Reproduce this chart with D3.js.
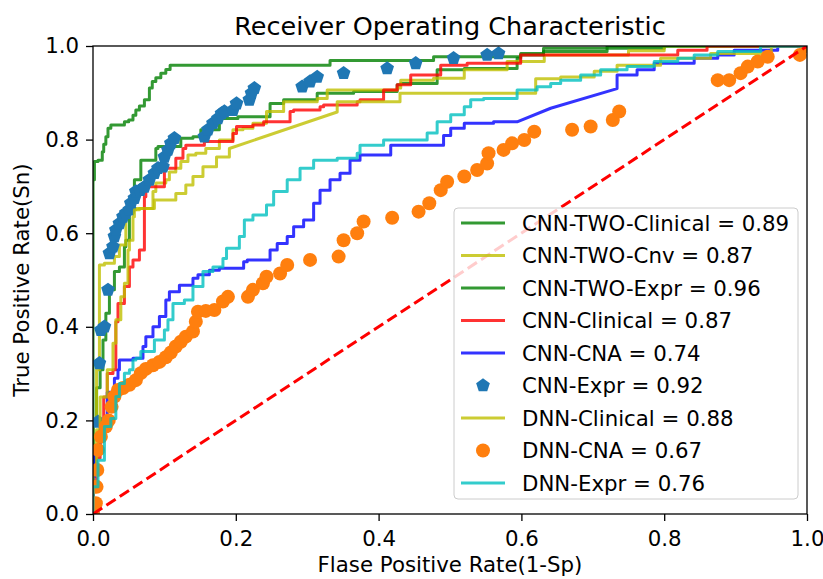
<!DOCTYPE html>
<html>
<head>
<meta charset="utf-8">
<script src="https://cdn.jsdelivr.net/npm/d3@7"></script>
<style>
  body{margin:0;background:#fff;}
  text{font-family:"DejaVu Sans",sans-serif;fill:#000;}
</style>
</head>
<body>
<div class="canvas"></div>
<script>
// roc points: [fpr, tpr] (a third 'd' = straight segment, not a step)
const twoClinical=[[0,0],[0,0.1],[0.005,0.2],[0.01,0.27],[0.014,0.308],[0.018,0.372],[0.023,0.429],[0.03,0.479],[0.037,0.518],[0.044,0.528],[0.046,0.571],[0.051,0.585],[0.056,0.642],[0.058,0.66],[0.067,0.714],[0.067,0.749],[0.088,0.756],[0.091,0.781],[0.123,0.785],[0.14,0.803],[0.151,0.806],[0.177,0.821],[0.203,0.845],[0.248,0.849],[0.267,0.877],[0.314,0.885],[0.365,0.899],[0.426,0.903],[0.431,0.917],[0.482,0.92],[0.52,0.949],[0.594,0.952],[0.599,0.974],[0.631,0.984],[0.8,0.995],[1,1]];
const twoCnv=[[0,0],[0,0.12],[0.005,0.2],[0.009,0.308],[0.009,0.518],[0.016,0.532],[0.03,0.536],[0.037,0.55],[0.046,0.575],[0.051,0.635],[0.06,0.65],[0.084,0.653],[0.088,0.689],[0.102,0.707],[0.107,0.714],[0.116,0.731],[0.123,0.739],[0.133,0.753],[0.144,0.767],[0.158,0.771],[0.177,0.781],[0.196,0.799],[0.21,0.821],[0.224,0.824],[0.243,0.835],[0.267,0.86],[0.314,0.881],[0.328,0.888],[0.426,0.906],[0.431,0.91],[0.477,0.927],[0.52,0.931],[0.58,0.949],[0.632,0.967],[0.75,0.981],[0.8,0.99],[1,1]];
const twoExpr=[[0,0],[0.002,0.714],[0.007,0.753],[0.013,0.756],[0.015,0.774],[0.018,0.79],[0.021,0.806],[0.025,0.824],[0.044,0.831],[0.05,0.838],[0.056,0.842],[0.06,0.852],[0.065,0.863],[0.072,0.872],[0.079,0.885],[0.083,0.91],[0.088,0.924],[0.095,0.932],[0.102,0.942],[0.108,0.95],[0.114,0.959],[0.332,0.959],[0.477,0.969],[0.599,0.977],[0.631,0.981],[0.72,0.988],[1,1]];
const cnnClinical=[[0,0],[0.005,0.05],[0.01,0.12],[0.015,0.18],[0.02,0.25],[0.028,0.3],[0.032,0.308],[0.035,0.411],[0.044,0.45],[0.051,0.486],[0.056,0.528],[0.065,0.543],[0.072,0.564],[0.074,0.678],[0.1,0.699],[0.102,0.739],[0.116,0.739],[0.126,0.76],[0.13,0.781],[0.156,0.788],[0.196,0.796],[0.201,0.813],[0.224,0.828],[0.239,0.831],[0.276,0.838],[0.281,0.86],[0.318,0.863],[0.323,0.87],[0.37,0.874],[0.374,0.881],[0.407,0.885],[0.426,0.906],[0.445,0.917],[0.487,0.938],[0.524,0.959],[0.599,0.963],[0.819,0.981],[0.86,0.991],[1,1]];
const cnnCna=[[0,0],[0.002,0.08],[0.01,0.13],[0.02,0.2],[0.03,0.26],[0.035,0.29],[0.037,0.308],[0.056,0.329],[0.07,0.333],[0.074,0.358],[0.084,0.379],[0.093,0.4],[0.102,0.422],[0.107,0.457],[0.121,0.475],[0.14,0.489],[0.147,0.504],[0.163,0.511],[0.177,0.521],[0.211,0.525],[0.216,0.539],[0.248,0.543],[0.258,0.564],[0.272,0.578],[0.281,0.593],[0.295,0.614],[0.309,0.628],[0.318,0.664],[0.332,0.692],[0.346,0.714],[0.36,0.728],[0.374,0.756],[0.417,0.767],[0.435,0.788],[0.491,0.788],[0.501,0.809],[0.52,0.824],[0.561,0.835],[0.594,0.838],[0.641,0.867,'d'],[0.734,0.909,'d'],[0.762,0.938],[0.786,0.949],[0.842,0.963],[0.875,0.974],[0.898,0.981],[0.959,0.991],[0.963,1],[1,1]];
const cnnExpr=[[0,0],[0.007,0.197],[0.009,0.322],[0.011,0.393],[0.016,0.4],[0.021,0.479],[0.023,0.557],[0.028,0.571],[0.03,0.593],[0.032,0.607],[0.037,0.621],[0.042,0.635],[0.046,0.643],[0.051,0.65],[0.053,0.664],[0.058,0.675],[0.06,0.689],[0.066,0.692],[0.072,0.699],[0.079,0.714],[0.086,0.728],[0.091,0.739],[0.098,0.742],[0.1,0.763],[0.105,0.778],[0.109,0.792],[0.114,0.803],[0.156,0.806],[0.161,0.821],[0.168,0.835],[0.175,0.845],[0.18,0.856],[0.184,0.86],[0.196,0.863],[0.201,0.877],[0.219,0.885],[0.222,0.899],[0.226,0.91],[0.293,0.913],[0.304,0.924],[0.314,0.934],[0.351,0.942],[0.412,0.952],[0.452,0.963],[0.505,0.974],[0.552,0.981],[0.568,0.984],[1,1]];
const dnnClinical=[[0,0],[0.005,0.1],[0.01,0.18],[0.02,0.25],[0.028,0.308],[0.032,0.365],[0.039,0.415],[0.044,0.464],[0.049,0.493],[0.051,0.564],[0.056,0.585],[0.058,0.635],[0.065,0.65],[0.086,0.653],[0.116,0.671],[0.13,0.685],[0.14,0.703],[0.154,0.721],[0.173,0.742],[0.191,0.763],[0.191,0.781],[0.342,0.859,'d'],[0.43,0.881],[0.62,0.899],[0.655,0.93],[0.702,0.934],[0.734,0.946],[0.795,0.959],[0.865,0.974],[0.95,0.984],[1,1]];
const dnnCna=[[0,0],[0.004,0.023],[0.005,0.058],[0.006,0.094],[0.007,0.137],[0.011,0.165],[0.018,0.187],[0.022,0.2],[0.026,0.229],[0.03,0.251],[0.035,0.265],[0.042,0.269],[0.051,0.276],[0.06,0.286],[0.067,0.301],[0.074,0.31],[0.084,0.318],[0.093,0.325],[0.102,0.335],[0.109,0.345],[0.116,0.358],[0.123,0.368],[0.13,0.379],[0.14,0.39],[0.144,0.411],[0.147,0.432],[0.158,0.434],[0.17,0.436],[0.182,0.454],[0.189,0.464],[0.217,0.464],[0.224,0.479],[0.238,0.493],[0.243,0.507],[0.262,0.514],[0.272,0.532],[0.304,0.543],[0.344,0.55],[0.351,0.585],[0.37,0.6],[0.379,0.625],[0.419,0.633],[0.456,0.646],[0.471,0.664],[0.487,0.692],[0.496,0.71],[0.52,0.721],[0.538,0.735],[0.552,0.749],[0.554,0.771],[0.575,0.778],[0.587,0.792],[0.604,0.799],[0.618,0.817],[0.671,0.821],[0.697,0.828],[0.728,0.842],[0.737,0.86],[0.875,0.927],[0.891,0.927],[0.907,0.942],[0.917,0.956],[0.931,0.967],[0.945,0.977],[0.99,0.981],[1,1]];
const dnnExpr=[[0,0],[0,0.009],[0.007,0.058],[0.016,0.115],[0.025,0.187],[0.032,0.204],[0.037,0.251],[0.044,0.279],[0.051,0.301],[0.056,0.308],[0.06,0.329],[0.067,0.333],[0.086,0.347],[0.1,0.372],[0.105,0.393],[0.112,0.415],[0.128,0.45],[0.14,0.457],[0.154,0.486],[0.168,0.518],[0.182,0.528],[0.187,0.546],[0.205,0.568],[0.212,0.593],[0.224,0.628],[0.243,0.639],[0.253,0.66],[0.272,0.689],[0.29,0.714],[0.309,0.739],[0.342,0.756],[0.37,0.76],[0.374,0.771],[0.407,0.788],[0.431,0.799],[0.468,0.799],[0.482,0.814],[0.501,0.838],[0.52,0.853],[0.529,0.87],[0.547,0.885],[0.594,0.888],[0.622,0.906],[0.641,0.913],[0.655,0.92],[0.683,0.927],[0.711,0.938],[0.748,0.949],[0.786,0.956],[0.819,0.967],[0.842,0.974],[0.875,0.981],[0.935,0.988],[0.96,1],[1,1]];

const labels=['CNN-TWO-Clinical','CNN-TWO-Cnv','CNN-TWO-Expr','CNN-Clinical','CNN-CNA','CNN-Expr','DNN-Clinical','DNN-CNA','DNN-Expr'];
const aucs=[0.89,0.87,0.96,0.87,0.74,0.92,0.88,0.67,0.76];
const ticks=[0,0.2,0.4,0.6,0.8,1.0];

// plot order = legend order
const series=[
  {pts:twoClinical,color:'#008000',kind:'line'},
  {pts:twoCnv,color:'#bfbf00',kind:'line'},
  {pts:twoExpr,color:'#008000',kind:'line'},
  {pts:cnnClinical,color:'#ff0000',kind:'line'},
  {pts:cnnCna,color:'#0000ff',kind:'line'},
  {pts:cnnExpr,color:'#1f77b4',kind:'pent'},
  {pts:dnnClinical,color:'#bfbf00',kind:'line'},
  {pts:dnnCna,color:'#ff7f0e',kind:'circle'},
  {pts:dnnExpr,color:'#00bfbf',kind:'line'}
];

const svg=d3.select('.canvas').append('svg')
    .attr('width',823)
    .attr('height',579);

const margin={top:46,right:16,bottom:65,left:93};
const width=823-margin.left-margin.right;
const height=579-margin.top-margin.bottom;

const x=d3.scaleLinear().domain([0,1]).range([0,width]);
const y=d3.scaleLinear().domain([0,1]).range([height,0]);

const graph=svg.append('g')
    .attr('transform',`translate(${margin.left},${margin.top})`);

graph.append('clipPath').attr('id','clip')
  .append('rect').attr('width',width).attr('height',height);

const plot=graph.append('g').attr('clip-path','url(#clip)');

// step path: up first, then right (roc staircase)
const stepPath=(pts)=>{
  const p=d3.path();
  let px=0;
  pts.forEach((d,i)=>{
    const X=x(d[0]),Y=y(d[1]);
    if(i===0) p.moveTo(X,Y);
    else if(d[2]==='d') p.lineTo(X,Y);
    else {p.lineTo(px,Y);p.lineTo(X,Y);}
    px=X;
  });
  return p.toString();
};

// pentagon marker shape
const pentagon=(r)=>{
  const pts=d3.range(5).map(k=>{
    const a=-Math.PI/2+k*2*Math.PI/5;
    return [r*Math.cos(a),r*Math.sin(a)];
  });
  return 'M'+pts.join('L')+'Z';
};

series.forEach(s=>{
  if(s.kind==='line'){
    plot.append('path')
      .attr('d',stepPath(s.pts))
      .attr('fill','none')
      .attr('stroke',s.color)
      .attr('stroke-opacity',0.8)
      .attr('stroke-width',3)
      .attr('stroke-linejoin','round');
  } else if(s.kind==='pent'){
    plot.selectAll(null).data(s.pts).enter().append('path')
      .attr('d',pentagon(7.2))
      .attr('transform',d=>`translate(${x(d[0])},${y(d[1])})`)
      .attr('fill',s.color);
  } else {
    plot.selectAll(null).data(s.pts).enter().append('circle')
      .attr('cx',d=>x(d[0]))
      .attr('cy',d=>y(d[1]))
      .attr('r',7)
      .attr('fill',s.color);
  }
});

// chance line
plot.append('line')
  .attr('x1',x(0)).attr('y1',y(0))
  .attr('x2',x(1)).attr('y2',y(1))
  .attr('stroke','#ff0000')
  .attr('stroke-width',3)
  .attr('stroke-dasharray','11,5');

// axes
const xAxis=d3.axisBottom(x).tickValues(ticks).tickFormat(d3.format('.1f')).tickSize(7).tickPadding(10).tickSizeOuter(0);
const yAxis=d3.axisLeft(y).tickValues(ticks).tickFormat(d3.format('.1f')).tickSize(7).tickPadding(7).tickSizeOuter(0);

const xAxisGroup=graph.append('g').attr('transform',`translate(0,${height})`).call(xAxis);
const yAxisGroup=graph.append('g').call(yAxis);
[xAxisGroup,yAxisGroup].forEach(g=>{
  g.select('.domain').remove();
  g.selectAll('line').attr('stroke','#000').attr('stroke-width',1.3);
  g.selectAll('text').attr('font-size',21.3).attr('font-family','DejaVu Sans').attr('fill','#000');
});

// spines
graph.append('rect')
  .attr('width',width).attr('height',height)
  .attr('fill','none').attr('stroke','#000').attr('stroke-width',1.3);

// title + labels
svg.append('text')
  .attr('x',margin.left+width/2).attr('y',35)
  .attr('text-anchor','middle').attr('font-size',25.5)
  .text('Receiver Operating Characteristic');
svg.append('text')
  .attr('x',margin.left+width/2).attr('y',572)
  .attr('text-anchor','middle').attr('font-size',21.3)
  .text('Flase Positive Rate(1-Sp)');
svg.append('text')
  .attr('transform',`translate(29,${margin.top+height/2}) rotate(-90)`)
  .attr('text-anchor','middle').attr('font-size',21.3)
  .text('True Positive Rate(Sn)');

// legend
const legend=svg.append('g').attr('transform','translate(454,208)');
legend.append('rect')
  .attr('width',344).attr('height',291).attr('rx',4)
  .attr('fill','#fff').attr('fill-opacity',0.8)
  .attr('stroke','#ccc').attr('stroke-width',1);

const items=legend.selectAll('g.item').data(series).enter().append('g')
  .attr('transform',(d,i)=>`translate(0,${15+i*32.5})`);

items.each(function(d){
  const g=d3.select(this);
  if(d.kind==='line'){
    g.append('line').attr('x1',7).attr('x2',51).attr('stroke',d.color)
      .attr('stroke-opacity',0.8).attr('stroke-width',3);
  } else if(d.kind==='pent'){
    g.append('path').attr('d',pentagon(7.2)).attr('transform','translate(29,0)').attr('fill',d.color);
  } else {
    g.append('circle').attr('cx',29).attr('r',7).attr('fill',d.color);
  }
});

items.append('text')
  .attr('x',68).attr('dy','0.36em').attr('font-size',21.3)
  .text((d,i)=>`${labels[i]} = ${aucs[i].toFixed(2)}`);
</script>
</body>
</html>
